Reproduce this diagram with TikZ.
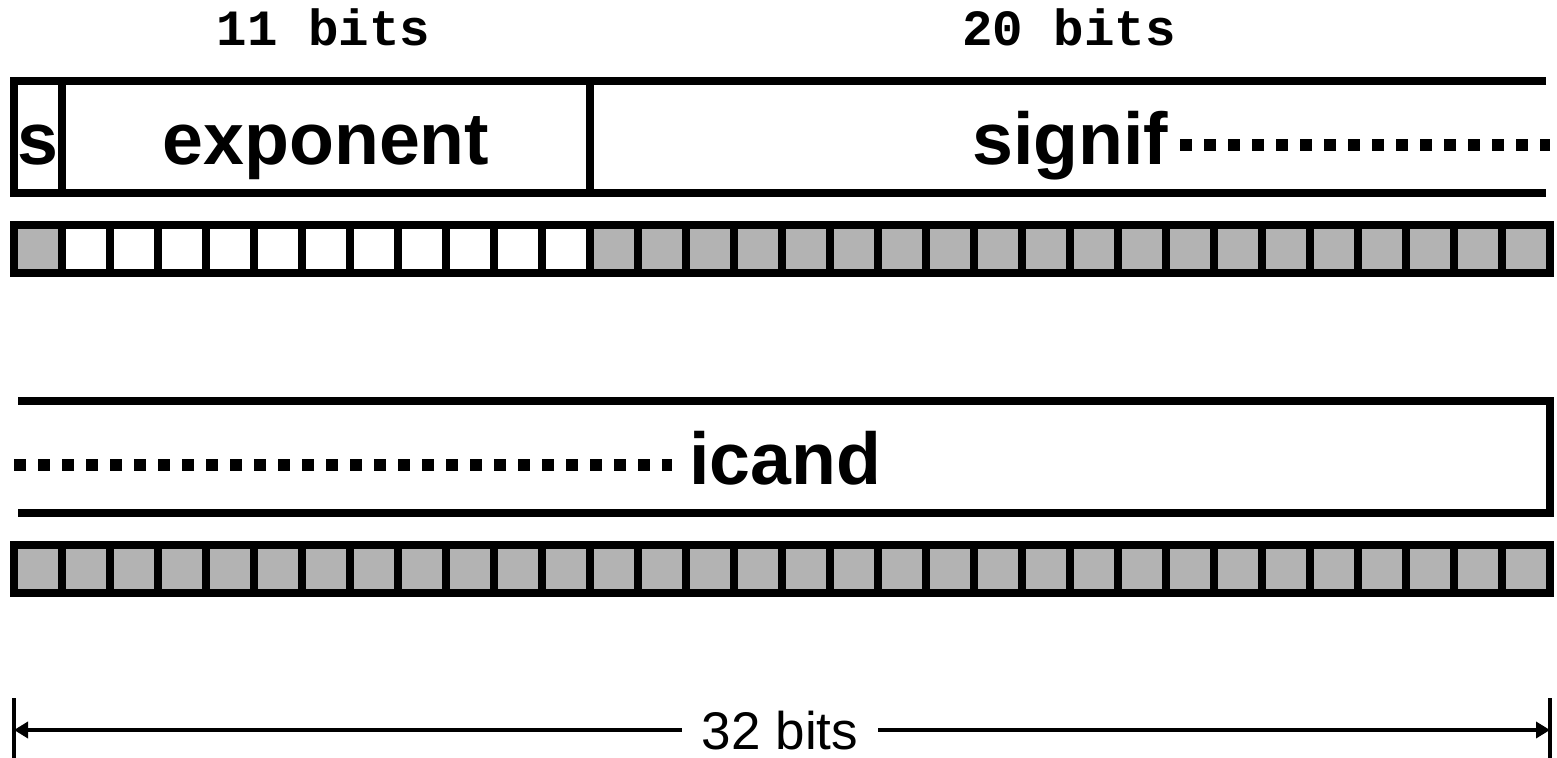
\documentclass[tikz,border=0pt]{standalone}
\usepackage{fontspec}
\usepackage{tikz}
\usetikzlibrary{arrows.meta}
\setmainfont{Liberation Sans}
\newfontfamily\widthfont{Liberation Mono}
\definecolor{ink}{HTML}{000000}
\definecolor{bitgray}{HTML}{B3B3B3}
\tikzset{
  fieldframe/.style={draw=ink, line width=4pt, line join=miter},
  bitcell/.style={draw=ink, line width=4pt, fill=bitgray},
  expcell/.style={draw=ink, line width=4pt, fill=white},
  dotline/.style={draw=ink, line width=6pt, dash pattern=on 6pt off 6pt},
  field/.style={inner sep=0pt, font=\fontsize{36.75}{40}\selectfont\bfseries},
  bitslabel/.style={inner sep=0pt, font=\fontsize{25.4}{28}\selectfont\widthfont\bfseries},
  totallabel/.style={inner xsep=10pt, inner ysep=0pt, font=\fontsize{26.5}{30}\selectfont},
  dimline/.style={draw=ink, line width=2.4pt, -{Triangle[length=7pt,width=8pt]}},
  dimtick/.style={draw=ink, line width=1.8pt}
}
\begin{document}
\begin{tikzpicture}[x=0.5pt, y=-0.5pt]
  \useasboundingbox (0,0) rectangle (1557,758);

  % field widths
  \node[bitslabel, anchor=base] (expw) at (323.5,46) {11 bits};
  \node[bitslabel, anchor=base] (sigw) at (1069,46) {20 bits};

  % upper word
  \draw[fieldframe] (1546,81) -- (14,81) -- (14,193) -- (1546,193);
  \draw[fieldframe] (62,81) -- (62,193);
  \draw[fieldframe] (590,81) -- (590,193);
  \node[field, anchor=base] (sign) at (38,165) {s};
  \node[field, anchor=base] (expo) at (326,165) {exponent};
  \node[field, anchor=base west] (sighi) at (972,165) {signif};
  \coordinate (sigdots) at (1180,145.5);
  \coordinate (sigend) at (1550,145.5);
  \draw[dotline] (sigdots) -- (sigend);

  \foreach \k in {0,...,31}
    \draw[bitcell] (14+48*\k,225) rectangle +(48,48);
  \foreach \k in {1,...,11}
    \draw[expcell] (14+48*\k,225) rectangle +(48,48);

  % lower word
  \draw[fieldframe] (18,401) -- (1550,401) -- (1550,513) -- (18,513);
  \coordinate (icdots) at (14,465.5);
  \coordinate (icend) at (672,465.5);
  \draw[dotline] (icdots) -- (icend);
  \node[field, anchor=base west] (siglo) at (689,484.5) {icand};

  \foreach \k in {0,...,31}
    \draw[bitcell] (14+48*\k,545) rectangle +(48,48);

  % total width
  \coordinate (dimL) at (14,730);
  \coordinate (dimR) at (1550,730);
  \draw[dimtick] (14,698) -- (14,758);
  \draw[dimtick] (1550,698) -- (1550,758);
  \node[totallabel, anchor=base] (total) at (780,749) {32 bits};
  \draw[dimline] (total.west |- dimL) -- (dimL);
  \draw[dimline] (total.east |- dimR) -- (dimR);
\end{tikzpicture}
\end{document}
